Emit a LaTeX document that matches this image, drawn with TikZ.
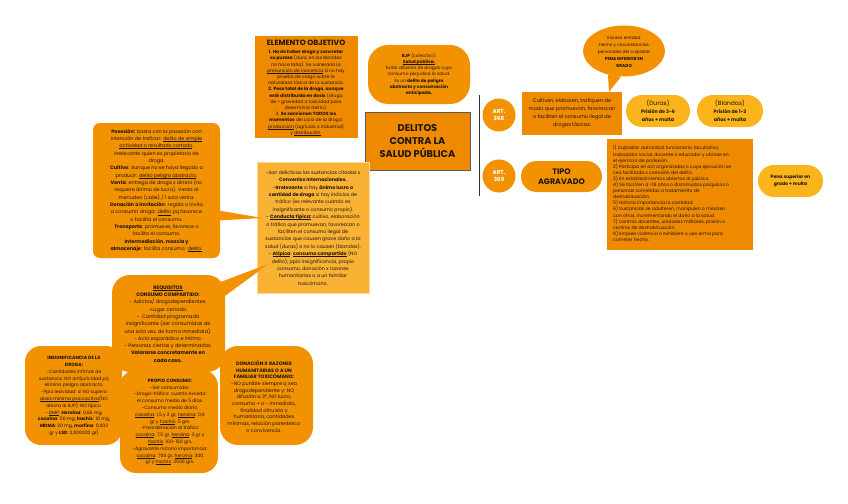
\documentclass[tikz,border=0pt]{standalone}
\usepackage{fontspec}
\setmainfont{Poppins}
\usetikzlibrary{calc,shapes.geometric}
\definecolor{orgA}{RGB}{243,146,0}
\definecolor{orgB}{RGB}{239,138,0}
\definecolor{yel}{RGB}{251,180,28}
\definecolor{ctrc}{RGB}{249,178,51}
\definecolor{ink}{RGB}{28,22,12}
\newcommand\fsz[2]{\fontsize{#1}{#2}\selectfont}
\newcommand\ul[1]{\setbox0\hbox{#1}\rlap{\rule[-0.9pt]{\wd0}{0.3pt}}\box0\relax}
\tikzset{
  every node/.style={inner sep=0pt, align=center, text=ink},
  rectbox/.style={fill=orgB},
  bubble/.style={fill=orgA},
  pill/.style={fill=yel},
  tailfill/.style={fill=orgA},
}
\begin{document}
\begin{tikzpicture}[x=1pt,y=-1pt]
\fill[white] (0,0) rectangle (848,503);
\useasboundingbox (0,0) rectangle (848,503);

% ---------- ELEMENTO OBJETIVO ----------
\node[rectbox, minimum width=103, minimum height=102] (elem) at (306.5,87) {};
\node[font=\fsz{7.6}{9}\bfseries] (elemt) at (306,43) {ELEMENTO OBJETIVO};
\node[font=\fsz{4.5}{6.2}] (elemb) at (306,93) {%
\textbf{1. Ha de haber droga y concretar}\\
\textbf{su pureza} (dura, en las blandas\\
no hace falta). Se vulneraría la\\
\ul{\itshape presunción de inocencia} si no hay\\
prueba de cargo sobre la\\
naturaleza tóxica de la sustancia.\\
\textbf{2. Peso total de la droga, aunque}\\
\textbf{esté distribuida en dosis} (droga\\
de > gravedad o toxicidad para\\
determinar delito).\\
3. \textbf{Se sancionan TODOS los}\\
\textbf{momentos} del ciclo de la droga:\\
\ul{producción} (agrícola o industrial)\\
y \ul{distribución}.};

% ---------- BJP ----------
\node[bubble, rounded corners=20, minimum width=102, minimum height=59, font=\fsz{4.4}{6.2}] (bjp) at (419,74.5) {%
\textbf{BJP} (colectivo):\\
\ul{\bfseries Salud pública.}\\
Evitar difusión de drogas cuyo\\
consumo perjudica la salud.\\
Es un \textbf{delito de peligro}\\
\textbf{abstracto y consumación}\\
\textbf{anticipada.}};

% ---------- DELITOS ----------
\node[rectbox, draw=black!65, line width=0.5pt, minimum width=105, minimum height=58, font=\fsz{9.8}{12.8}\bfseries] (del) at (417.5,141) {DELITOS\\CONTRA LA\\SALUD PÚBLICA};

% ---------- ART circles ----------
\node[circle, fill=orgA, minimum size=33, text=white, font=\fsz{5.6}{7.5}\bfseries] (art1) at (499,115) {ART.\\368};
\node[circle, fill=orgA, minimum size=33, text=white, font=\fsz{5.6}{7.5}\bfseries] (art2) at (499,176) {ART.\\369};
\draw[black!80, line width=0.9pt] ($(art1.west)+(-2.5,-20)$) -- ($(art2.west)+(-2.5,20)$);

% ---------- Cultiven ----------
\node[rectbox, minimum width=100, minimum height=43, font=\fsz{5}{8}] (cult) at (572,113.5) {%
Cultiven, elaboren, trafiquen de\\
modo que promuevan, favorezcan\\
o faciliten el consumo ilegal de\\
drogas tóxicas.};

% ---------- Speech bubble ----------
\node[ellipse, bubble, minimum width=82, minimum height=51] (ell) at (624,51) {};
\fill[tailfill] ($(ell.south)+(-16,-2)$) -- ($(ell.south)+(-3,0)$) -- ($(cult.north)+(37,0)$) -- cycle;
\node[font=\fsz{4.3}{7}] (ellt) at (624,52) {%
Escasa entidad\\
hecho y circunstancias\\
personales del culpable:\\
\textbf{PENA INFERIOR EN}\\
\textbf{GRADO}};

% ---------- Duras / Blandas ----------
\node[pill, rounded corners=16, minimum width=64, minimum height=32, font=\fsz{4.8}{7.8}] (dur) at (658,111) {%
{\fsz{6}{7.8}(Duras)}\\
\textbf{Prisión de 3-6}\\
\textbf{años + multa}};
\node[pill, rounded corners=16, minimum width=66, minimum height=32, font=\fsz{4.8}{7.8}] (bla) at (730,111) {%
{\fsz{6}{7.8}(Blandas)}\\
\textbf{Prisión de 1-3}\\
\textbf{años + multa}};

% ---------- TIPO AGRAVADO ----------
\node[bubble, rounded corners=15.5, minimum width=81, minimum height=31, font=\fsz{8}{10.5}\bfseries] (tipo) at (561.5,176.5) {TIPO\\AGRAVADO};

% ---------- List ----------
\node[rectbox, minimum width=146, minimum height=111] (list) at (680,194.5) {};
\node[align=left, anchor=north west, font=\fsz{4.55}{6.1}] (listt) at (613,145.5) {%
1) Culpable: autoridad, funcionario, facultativo,\\
trabajador social, docente o educador y obrase en\\
el ejercicio de profesión.\\
2) Participa en act organizadas o cuya ejecución se\\
vea facilitada x comisión del delito.\\
3) En establecimientos abiertos al público.\\
4) Se faciliten a <18 años o disminuidos psíquicos o\\
personas sometidas a tratamiento de\\
deshabituación.\\
5) Notoria importancia la cantidad.\\
6) Sustancias se adulteren, manipulen o mezclen\\
con otros, incrementando el daño a la salud.\\
7) Centros docentes, unidades militares, prisión o\\
centros de deshabituación.\\
8) Empiee violencia o exhibiere o use arma para\\
cometer hecho.};

% ---------- Pena superior ----------
\node[pill, rounded corners=16, minimum width=65, minimum height=32, font=\fsz{4.6}{7}\bfseries] (pena) at (790.5,181) {Pena superior en\\grado + multa};

% ---------- Posesion ----------
\node[bubble, rounded corners=7, minimum width=127, minimum height=135, font=\fsz{4.9}{7.35}] (pos) at (156.5,190.5) {%
\textbf{Posesión:} basta con la posesión con\\
intención de traficar: \ul{delito de simple}\\
\ul{actividad o resultado cortado}.\\
Irrelevante quien es propietario de\\
droga.\\
\textbf{Cultivo}: Aunque no se haya llegado a\\
producir: \ul{delito peligro abstracto}.\\
\textbf{Venta}: entrega de droga x dinero (no\\
requiere ánimo de lucro). Venta al\\
menudeo (calle) / 1 sola venta.\\
\textbf{Donación o invitación}: regala o invita\\
a consumir droga: \ul{delito} pq favorece\\
o facilita el consumo.\\
\textbf{Transporte}: promueve, favorece o\\
facilita el consumo.\\
\textbf{Intermediación, mezcla y}\\
\textbf{almacenaje}: facilita consumo: \ul{delito.}};

% ---------- Center box ----------
\node[fill=ctrc, draw=yel!50!white, line width=0.6pt, minimum width=112, minimum height=131, font=\fsz{4.8}{7.4}] (ctr) at (313,228) {%
-Son delictivas las sustancias citadas x\\
\textbf{Convenios Internacionales.}\\
-\textbf{Irrelevante} si hay \textbf{ánimo lucro o}\\
\textbf{cantidad de droga} si hay indicios de\\
tráfico (es relevante cuando es\\
insignificante o consumo propio).\\
- \ul{\bfseries Conducta típica:} cultivo, elaboración\\
o tráfico que promuevan, favorezcan o\\
faciliten el consumo ilegal de\\
sustancias que causen grave daño a la\\
salud (duras) o no lo causen (blandas).\\
- \ul{\bfseries Atípica}: \ul{\bfseries consumo compartido} (NO\\
delito), ppio insignificancia, propio\\
consumo, donación x razones\\
humanitarias o a un familiar\\
toxicómano.};
\fill[tailfill] ($(pos.east)+(-2,20)$) -- ($(pos.east)+(-2,30)$) -- ($(ctr.west)+(6,-10)$) -- cycle;

% ---------- Requisitos and bottom group ----------
\node[bubble, rounded corners=18, minimum width=113, minimum height=97] (req) at (168.5,323.5) {};
\fill[tailfill] ($(req.north east)+(-12,10)$) -- ($(req.north east)+(0,21)$) -- ($(ctr.south west)+(12,-30)$) -- cycle;
\node[bubble, rounded corners=16, minimum width=97, minimum height=99] (ins) at (73.5,395.5) {};
\node[bubble, rounded corners=18, minimum width=93, minimum height=99] (don) at (266.5,395.5) {};
\node[bubble, rounded corners=16, minimum width=98, minimum height=103] (pro) at (169,421.5) {};

\node[font=\fsz{5}{7.3}] (reqt) at (168,324) {%
\ul{\bfseries REQUISITOS}\\
\textbf{CONSUMO COMPARTIDO:}\\
- Adictos/ drogodependientes.\\
-Lugar cerrado.\\
-\ \ Cantidad programada\\
insignificante (ser consumidas de\\
una sola vez, de forma inmediata).\\
- Acto esporádico e íntimo.\\
- Personas ciertas y determinadas.\\
\textbf{Valorarse concretamente en}\\
\textbf{cada caso.}};

\node[font=\fsz{4.6}{6.8}] (inst) at (74,396) {%
\textbf{INSIGNIFICANCIA DE LA}\\
\textbf{DROGA:}\\
-Cantidades ínfimas de\\
sustancia: NO antijuricidad pq\\
elimina peligro abstracto.\\
-Ppio lesividad: si NO supera\\
\ul{dosis mínima psicoactiva}(NO\\
afecta al BJP): NO típico.\\
- \ul{DMP}: \textbf{Heroína}: 0,66 mg,\\
\textbf{cocaína}: 50 mg, \textbf{hachís}: 10 mg,\\
\textbf{MDMA}: 20 mg, \textbf{morfina}: 0,002\\
gr y \textbf{LSD}: 0,000002 gr)};

\node[font=\fsz{4.6}{6.8}] (prot) at (170,422) {%
\textbf{PROPIO CONSUMO:}\\
-Ser consumidor.\\
-Droga-tráfico: cuanto exceda\\
el consumo medio de 5 días.\\
-Consumo medio diario:\\
\ul{cocaína}: 1,5 y 2 gr, \ul{heroína}: 0,6\\
gr y \ul{hachís}: 5 grs.\\
-Preordenación al tráfico:\\
\ul{cocaína}: 7,5 gr, \ul{heroína}: 3 gr y\\
\ul{hachís}: 100-150 grs.\\
-Agravante notoria importancia:\\
\ul{cocaína}: 700 gr, \ul{heroína}: 300\\
gr y \ul{hachís}: 2500 grs.};

\node[font=\fsz{4.9}{6.7}] (dont) at (264,396.5) {%
\textbf{DONACIÓN X RAZONES}\\
\textbf{HUMANITARIAS O A UN}\\
\textbf{FAMILIAR TOXICÓMANO:}\\
-NO punible siempre q sea\\
drogodependiente y: NO\\
difusión a 3º, NO lucro,\\
consumo + o - inmediato,\\
finalidad altruista y\\
humanitaria, cantidades\\
mínimas, relación parentesco\\
o convivencia.};
\end{tikzpicture}
\end{document}
